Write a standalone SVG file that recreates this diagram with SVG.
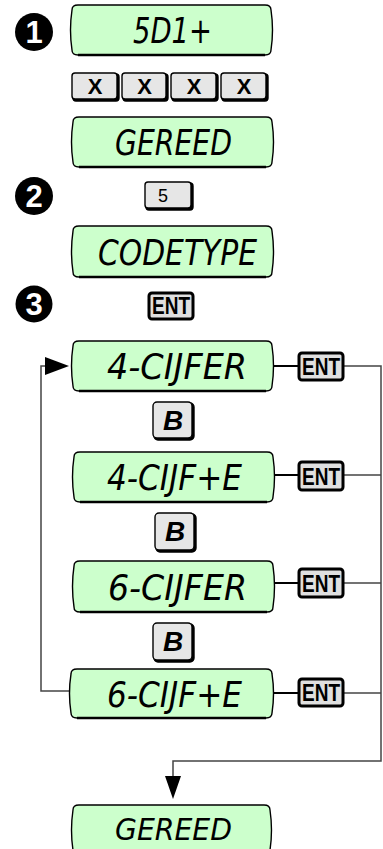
<svg xmlns="http://www.w3.org/2000/svg" width="383" height="849" viewBox="0 0 383 849">
<style>
.disp{fill:#ccffcc;stroke:#000;stroke-width:1.4}
.dshadow{fill:none;stroke:#000;stroke-width:2.4}
.lcd{font-family:"DejaVu Sans Condensed","DejaVu Sans",sans-serif;font-style:oblique;font-size:35px;fill:#000;text-anchor:start}
.key{fill:#e6e6e6;stroke:#000;stroke-width:1.4}
.ksh{fill:#000;stroke:#000;stroke-width:1.4}
.entk{fill:#e0e0e0;stroke:#000;stroke-width:3}
.kt{font-family:"Liberation Sans",Arial,sans-serif;font-weight:bold;fill:#000;text-anchor:middle}
.xt{font-size:22px}
.bt{font-size:28px;font-style:italic}
.et{font-size:23px}
.ft{font-size:18px;font-weight:normal}
.circ{fill:#000}
.cn{font-family:"Liberation Sans",Arial,sans-serif;font-weight:bold;font-size:31px;fill:#fff;text-anchor:middle}
.lk{fill:none;stroke:#000;stroke-width:2}
.lg{fill:none;stroke:#444;stroke-width:1.5}
</style>
<defs>
<path id="dshape" d="M7,0 L194,0 Q200,0 200,5 Q203,25 200,45 Q200,50 194,50 L7,50 Q1,50 1,45 Q-2,25 1,5 Q1,0 7,0 Z"/>
</defs>
<g id="connectors">
<line class="lk" x1="272" y1="366" x2="298" y2="366"/>
<line class="lk" x1="275" y1="475" x2="298" y2="475"/>
<line class="lk" x1="275" y1="583" x2="298" y2="583"/>
<line class="lk" x1="273" y1="693" x2="298" y2="693"/>
<polyline class="lg" points="344,366 381,366 381,761 173,761 173,778"/>
<line class="lg" x1="344" y1="475" x2="381" y2="475"/>
<line class="lg" x1="344" y1="583" x2="381" y2="583"/>
<line class="lg" x1="344" y1="693" x2="381" y2="693"/>
<polygon points="165,776 181,776 173,799" fill="#000"/>
<polyline class="lg" points="70,691 41,691 41,366 48,366"/>
<polygon points="45,357 45,375 69,366" fill="#000"/>
</g>
<g id="step1"><circle class="circ" cx="34" cy="32" r="19"/><text class="cn" x="34" y="43">1</text></g>
<g id="step2"><circle class="circ" cx="34" cy="196" r="19"/><text class="cn" x="34" y="207">2</text></g>
<g id="step3"><circle class="circ" cx="34" cy="304" r="18.5"/><text class="cn" x="34" y="315">3</text></g>

<g id="d1"><use href="#dshape" class="disp" transform="translate(71,5)"/><line class="dshadow" x1="78" y1="55" x2="265" y2="55"/><text class="lcd" x="133" y="43" textLength="79" lengthAdjust="spacingAndGlyphs">5D1+</text></g>
<g id="keysX">
<rect class="ksh" x="73" y="74" width="46" height="27" rx="3"/><rect class="key" x="72" y="73" width="45" height="26" rx="3"/><text class="kt xt" x="95" y="94">X</text>
<rect class="ksh" x="123" y="74" width="45" height="27" rx="3"/><rect class="key" x="122" y="73" width="44" height="26" rx="3"/><text class="kt xt" x="144.5" y="94">X</text>
<rect class="ksh" x="172" y="74" width="46" height="27" rx="3"/><rect class="key" x="171" y="73" width="45" height="26" rx="3"/><text class="kt xt" x="194" y="94">X</text>
<rect class="ksh" x="222" y="74" width="46" height="27" rx="3"/><rect class="key" x="221" y="73" width="45" height="26" rx="3"/><text class="kt xt" x="244" y="94">X</text>
</g>
<g id="d2"><use href="#dshape" class="disp" transform="translate(72,117)"/><line class="dshadow" x1="79" y1="167" x2="266" y2="167"/><text class="lcd" x="115" y="155" textLength="117" lengthAdjust="spacingAndGlyphs">GEREED</text></g>
<g id="key5"><rect class="ksh" x="146" y="183" width="47" height="27" rx="3"/><rect class="key" x="145" y="182" width="46" height="26" rx="3"/><text class="kt ft" x="163" y="202">5</text></g>
<g id="d3"><use href="#dshape" class="disp" transform="translate(72,226) scale(1,1.02)"/><line class="dshadow" x1="79" y1="277" x2="266" y2="277"/><text class="lcd" x="98" y="265" textLength="159" lengthAdjust="spacingAndGlyphs">CODETYPE</text></g>
<g id="ent0"><rect class="entk" x="149" y="293" width="44" height="26" rx="3"/><text class="kt et" x="171" y="314" textLength="38" lengthAdjust="spacingAndGlyphs">ENT</text></g>

<g id="d4"><use href="#dshape" class="disp" transform="translate(72,341)"/><line class="dshadow" x1="79" y1="391" x2="266" y2="391"/><text class="lcd" x="107" y="379" textLength="140" lengthAdjust="spacingAndGlyphs">4-CIJFER</text></g>
<g id="ent1"><rect class="entk" x="299" y="353" width="44" height="27" rx="3"/><text class="kt et" x="321" y="375" textLength="38" lengthAdjust="spacingAndGlyphs">ENT</text></g>
<g id="b1"><rect class="ksh" x="154" y="403" width="40" height="37" rx="4"/><rect class="key" x="153" y="402" width="39" height="36" rx="4"/><text class="kt bt" x="173" y="430">B</text></g>

<g id="d5"><use href="#dshape" class="disp" transform="translate(73,452)"/><line class="dshadow" x1="80" y1="502" x2="267" y2="502"/><text class="lcd" x="107" y="490" textLength="135" lengthAdjust="spacingAndGlyphs">4-CIJF+E</text></g>
<g id="ent2"><rect class="entk" x="299" y="462" width="44" height="28" rx="3"/><text class="kt et" x="321" y="485" textLength="38" lengthAdjust="spacingAndGlyphs">ENT</text></g>
<g id="b2"><rect class="ksh" x="156" y="514" width="40" height="38" rx="4"/><rect class="key" x="155" y="513" width="39" height="37" rx="4"/><text class="kt bt" x="175" y="541">B</text></g>

<g id="d6"><use href="#dshape" class="disp" transform="translate(73,561) scale(1,1.02)"/><line class="dshadow" x1="80" y1="612" x2="267" y2="612"/><text class="lcd" x="108" y="600" textLength="139" lengthAdjust="spacingAndGlyphs">6-CIJFER</text></g>
<g id="ent3"><rect class="entk" x="299" y="569" width="44" height="28" rx="3"/><text class="kt et" x="321" y="592" textLength="38" lengthAdjust="spacingAndGlyphs">ENT</text></g>
<g id="b3"><rect class="ksh" x="154" y="624" width="40" height="38" rx="4"/><rect class="key" x="153" y="623" width="39" height="37" rx="4"/><text class="kt bt" x="173" y="651">B</text></g>

<g id="d7"><use href="#dshape" class="disp" transform="translate(70,669) scale(1.01,0.98)"/><line class="dshadow" x1="77" y1="718" x2="266" y2="718"/><text class="lcd" x="107" y="707" textLength="135" lengthAdjust="spacingAndGlyphs">6-CIJF+E</text></g>
<g id="ent4"><rect class="entk" x="299" y="679" width="44" height="27" rx="3"/><text class="kt et" x="321" y="701" textLength="38" lengthAdjust="spacingAndGlyphs">ENT</text></g>

<g id="d8"><use href="#dshape" class="disp" transform="translate(72,805) scale(0.99,1)"/><text class="lcd" x="115" y="840" font-size="31" style="font-size:31px" textLength="117" lengthAdjust="spacingAndGlyphs">GEREED</text></g>
</svg>
